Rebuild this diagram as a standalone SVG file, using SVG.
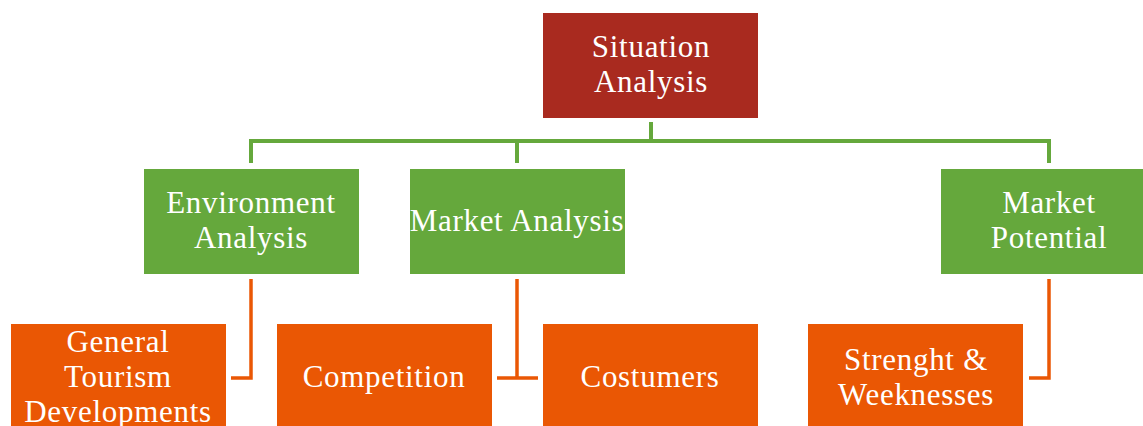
<svg xmlns="http://www.w3.org/2000/svg" width="1143" height="426" viewBox="0 0 1143 426">
<style>
.red{fill:#A92A1F}
.green{fill:#65A83C}
.orange{fill:#EA5704}
text{font-family:"Liberation Serif","DejaVu Serif",serif;font-size:31px;letter-spacing:0.7px;fill:#FFFFFF;text-anchor:middle}
.gl{fill:none;stroke:#65A83C;stroke-width:4}
.ol{fill:none;stroke:#EA5704;stroke-width:3.5}
</style>
<rect width="1143" height="426" fill="#FFFFFF"/>
<g id="connectors">
<path class="gl" d="M651 122V141M251 163V141H1049V163M517 141V163"/>
<path class="ol" d="M251 279V378H231"/>
<path class="ol" d="M517 279V378M497 378H538"/>
<path class="ol" d="M1049 279V378H1029"/>
</g>
<g id="situation"><rect class="red" x="543" y="13" width="215" height="105"/><text x="651" y="57">Situation</text><text x="651" y="92">Analysis</text></g>
<g id="environment"><rect class="green" x="144" y="169" width="215" height="105"/><text x="251" y="213">Environment</text><text x="251" y="248">Analysis</text></g>
<g id="market-analysis"><rect class="green" x="410" y="169" width="215" height="105"/><text x="517" y="231">Market Analysis</text></g>
<g id="market-potential"><rect class="green" x="941" y="169" width="215" height="105"/><text x="1049" y="213">Market</text><text x="1049" y="248">Potential</text></g>
<g id="general"><rect class="orange" x="11" y="324" width="215" height="110"/><text x="118" y="352">General</text><text x="118" y="387">Tourism</text><text x="118" y="422">Developments</text></g>
<g id="competition"><rect class="orange" x="277" y="324" width="215" height="110"/><text x="384" y="387">Competition</text></g>
<g id="costumers"><rect class="orange" x="543" y="324" width="215" height="110"/><text x="650" y="387">Costumers</text></g>
<g id="strenght"><rect class="orange" x="808" y="324" width="215" height="110"/><text x="916" y="370">Strenght &amp;</text><text x="916" y="405">Weeknesses</text></g>
</svg>
